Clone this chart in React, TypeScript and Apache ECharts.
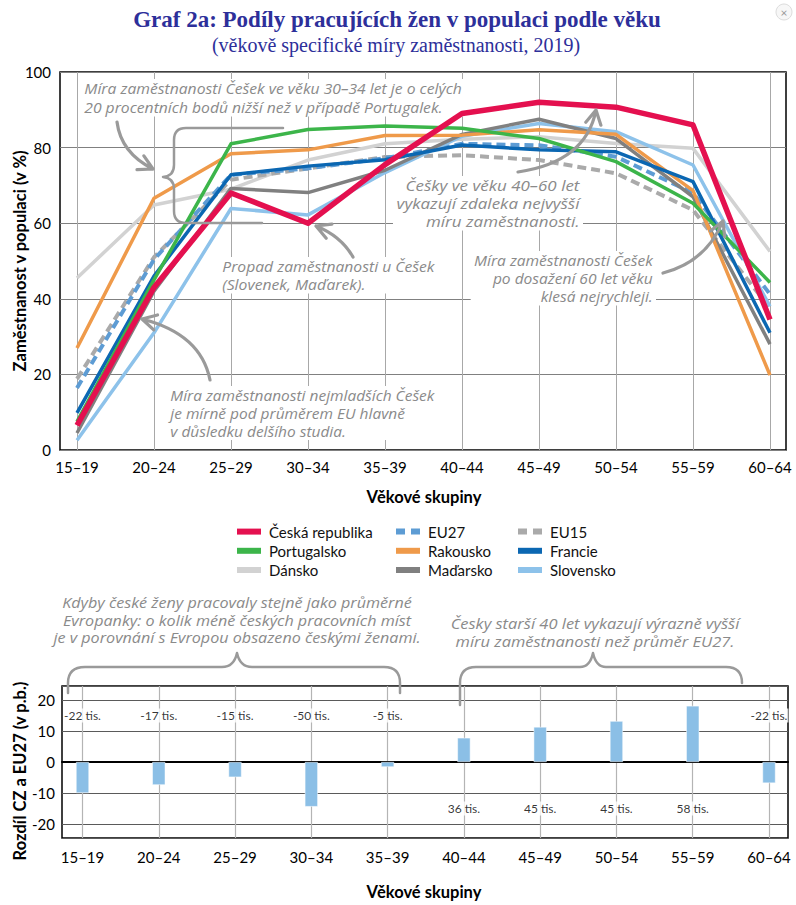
import React, { useEffect, useRef } from 'react';
import * as echarts from 'echarts';

// ---------- DATA ----------
const categories = ['15–19', '20–24', '25–29', '30–34', '35–39', '40–44', '45–49', '50–54', '55–59', '60–64'];

const czValues = [6.5, 43, 68, 60, 75.5, 89, 92, 90.7, 86, 34.5];
const eu27Values = [16.4, 50.4, 72.8, 74.5, 77.2, 81, 80.6, 77.6, 68, 41.2];
const eu15Values = [18.8, 51, 71.5, 74.5, 77.5, 78, 76.7, 73.2, 63.5, 37.5];
const ptValues = [7.5, 45, 81, 84.8, 85.7, 85.1, 82.4, 76.3, 65.3, 44.3];
const atValues = [27, 66.6, 78.4, 79.4, 83.2, 83.3, 84.7, 83.5, 68.6, 19.8];
const frValues = [9.8, 46, 72.8, 75.1, 76.8, 80.7, 79.4, 78.9, 71, 31];
const dkValues = [45.5, 64.8, 69, 76.7, 81, 82.2, 82.9, 81.1, 79.8, 52.5];
const huValues = [4.5, 42, 69.2, 68.1, 74, 83.5, 87.5, 82.4, 67, 28];
const skValues = [2.6, 31, 63.9, 62.2, 73.4, 83, 86.4, 84.2, 75.4, 38];

const diffValues = [-10, -7.4, -4.9, -14.4, -1.6, 7.8, 11.3, 13.2, 18.1, -6.8];
const jobLabels = ['-22 tis.', '-17 tis.', '-15 tis.', '-50 tis.', '-5 tis.', '36 tis.', '45 tis.', '45 tis.', '58 tis.', '-22 tis.'];

const legendCol1 = ['Česká republika', 'Portugalsko', 'Dánsko'];
const legendCol2 = ['EU27', 'Rakousko', 'Maďarsko'];
const legendCol3 = ['EU15', 'Francie', 'Slovensko'];

// ---------- STYLES ----------
const FONT = 'Lato, "Noto Sans", sans-serif';
const HAND = '"Open Sans", "Noto Sans", sans-serif';
const SERIF = '"Liberation Serif", "DejaVu Serif", serif';
const TITLE_COLOR = '#2d2f9a';
const ANNOT_COLOR = '#8a8a8a';
const ARROW_COLOR = '#9a9a9a';

const lineDefs = [
  { name: 'Dánsko', data: dkValues, color: '#d2d2d2', width: 3.5 },
  { name: 'EU15', data: eu15Values, color: '#aaaaaa', width: 4, dashed: true },
  { name: 'EU27', data: eu27Values, color: '#5d9cd4', width: 4, dashed: true },
  { name: 'Slovensko', data: skValues, color: '#8dc2ea', width: 3.5 },
  { name: 'Maďarsko', data: huValues, color: '#808080', width: 3.5 },
  { name: 'Rakousko', data: atValues, color: '#ef9a4a', width: 3.5 },
  { name: 'Francie', data: frValues, color: '#0b67b2', width: 3.5 },
  { name: 'Portugalsko', data: ptValues, color: '#3cb54a', width: 3.5 },
  { name: 'Česká republika', data: czValues, color: '#e4104f', width: 5.5 },
];
const dashedNames = lineDefs.filter((d) => d.dashed).map((d) => d.name);

const ICON_SOLID = 'path://M0,0H24V6H0Z';
const ICON_DASHED = 'path://M0,0H9V6H0ZM15,0H24V6H15Z';

// ---------- ANNOTATION SHAPES ----------
const arrows = [
  { s: [117, 122], c: [121, 153], t: [153, 169] },
  { s: [353, 257], c: [341, 236], t: [316, 226] },
  { s: [518, 172], c: [586, 162], t: [596, 110] },
  { s: [663, 273], c: [706, 262], t: [723, 221] },
  { s: [210, 380], c: [201, 334], t: [142, 319] },
];

function arrowPath(a: { s: number[]; c: number[]; t: number[] }) {
  const [sx, sy] = a.s;
  const [cx, cy] = a.c;
  const [tx, ty] = a.t;
  const ang = Math.atan2(ty - cy, tx - cx);
  const L = 16;
  const spread = 0.5;
  const a1 = [tx - L * Math.cos(ang - spread), ty - L * Math.sin(ang - spread)];
  const a2 = [tx - L * Math.cos(ang + spread), ty - L * Math.sin(ang + spread)];
  return `M${sx},${sy} Q${cx},${cy} ${tx},${ty} M${a1[0].toFixed(1)},${a1[1].toFixed(1)} L${tx},${ty} L${a2[0].toFixed(1)},${a2[1].toFixed(1)}`;
}

const arrowsD = arrows.map(arrowPath).join(' ');
const bracesD = [
  'M283,128 L186,128 Q174,128 174,140 L174,165 Q174,176 163,177 Q174,178 174,189 L174,211 Q174,223 186,223 L262,223',
  'M68,693 L68,683 Q68,667 85,667 L222,667 Q234,667 237,653 Q240,667 252,667 L384,667 Q400,667 400,683 L400,693',
  'M460,705 L460,683 Q460,667 476,667 L580,667 Q590,667 593,653 Q596,667 606,667 L726,667 Q742,667 742,683',
].join(' ');

echarts.graphic.registerShape('annotArrows', echarts.graphic.extendPath(arrowsD, {}));
echarts.graphic.registerShape('annotBraces', echarts.graphic.extendPath(bracesD, {}));

function handText(text: string, x: number, y: number, align: string, lineHeight: number, fontSize: number, scaleX: number, bg = true) {
  return {
    type: 'text',
    z: 1,
    x,
    y,
    scaleX,
    scaleY: 1,
    style: {
      text,
      x: 0,
      y: 0,
      align,
      verticalAlign: 'top',
      fontFamily: HAND,
      fontStyle: 'italic',
      fontSize,
      lineHeight,
      fill: ANNOT_COLOR,
      backgroundColor: bg ? '#ffffff' : undefined,
      padding: bg ? [0, 3] : 0,
    },
  };
}

function legendCfg(names: string[], left: number) {
  return {
    data: names.map((n) => ({ name: n, icon: dashedNames.includes(n) ? ICON_DASHED : ICON_SOLID })),
    left,
    top: 522,
    orient: 'vertical',
    padding: 0,
    itemGap: 0,
    itemWidth: 24,
    itemHeight: 6,
    selectedMode: false,
    textStyle: { fontFamily: FONT, fontSize: 15, color: '#111', lineHeight: 19.2, padding: [0, 0, 0, 3] },
  };
}

function axisName(text: string, x: number, y: number, vertical: boolean) {
  return {
    type: 'text',
    x,
    y,
    rotation: vertical ? Math.PI / 2 : 0,
    style: {
      text, x: 0, y: 0, align: 'center', verticalAlign: 'middle',
      fontFamily: FONT, fontWeight: 'bold', fontSize: 16.5, fill: '#000',
    },
  };
}

function buildOption() {
  const axisLabelStyle = { fontFamily: FONT, fontSize: 15, color: '#000' };
  return {
    animation: false,
    backgroundColor: '#ffffff',
    grid: [
      { left: 60, top: 72, width: 726, height: 378, show: true, borderColor: '#000', borderWidth: 1.5, backgroundColor: 'transparent' },
      { left: 77, top: 72, width: 693, height: 378 },
      { left: 62, top: 686, width: 726, height: 152, show: true, borderColor: '#000', borderWidth: 1.5, backgroundColor: 'transparent' },
      { left: 82.5, top: 686, width: 686.5, height: 152 },
    ],
    xAxis: [
      { gridIndex: 0, type: 'value', min: 0, max: 1, show: false },
      {
        gridIndex: 1,
        type: 'category',
        data: categories,
        boundaryGap: false,
        axisLine: { show: false, onZero: false },
        axisTick: { show: false },
        axisLabel: { ...axisLabelStyle, margin: 9, interval: 0 },
        splitLine: { show: true, interval: 0, lineStyle: { color: '#a8a8a8', width: 1 } },
      },
      {
        gridIndex: 2,
        type: 'value',
        min: 0,
        max: 1,
        axisLine: { show: true, onZero: true, lineStyle: { color: '#000', width: 2 } },
        axisTick: { show: false },
        axisLabel: { show: false },
        splitLine: { show: false },
      },
      {
        gridIndex: 3,
        type: 'category',
        data: categories,
        boundaryGap: false,
        axisLine: { show: false, onZero: false },
        axisTick: { show: false },
        axisLabel: { ...axisLabelStyle, margin: 11, interval: 0 },
        splitLine: { show: true, interval: 0, lineStyle: { color: '#b4b4b4', width: 1.2 } },
      },
    ],
    yAxis: [
      {
        gridIndex: 0,
        type: 'value',
        min: 0,
        max: 100,
        interval: 20,
        axisLine: { show: false },
        axisTick: { show: false },
        axisLabel: { ...axisLabelStyle, margin: 9 },
        splitLine: { show: true, lineStyle: { color: '#808080', width: 1 } },
      },
      { gridIndex: 1, type: 'value', min: 0, max: 100, show: false },
      {
        gridIndex: 2,
        type: 'value',
        min: -24.5,
        max: 24.5,
        splitNumber: 5,
        axisLine: { show: false },
        axisTick: { show: false },
        axisLabel: { ...axisLabelStyle, margin: 7, showMinLabel: false, showMaxLabel: false },
        splitLine: { show: true, lineStyle: { color: '#5a5a5a', width: 1 } },
      },
      { gridIndex: 3, type: 'value', min: -24.5, max: 24.5, show: false },
    ],
    legend: [legendCfg(legendCol1, 237), legendCfg(legendCol2, 396), legendCfg(legendCol3, 518)],
    series: [
      ...lineDefs.map((d) => ({
        name: d.name,
        type: 'line',
        xAxisIndex: 1,
        yAxisIndex: 1,
        data: d.data,
        symbol: 'none',
        showSymbol: false,
        clip: false,
        color: d.color,
        itemStyle: { color: d.color },
        lineStyle: { color: d.color, width: d.width, type: d.dashed ? [9, 5] : 'solid', cap: 'butt', join: 'round' },
      })),
      {
        name: 'Rozdíl',
        type: 'bar',
        xAxisIndex: 3,
        yAxisIndex: 3,
        data: diffValues,
        barWidth: 13,
        clip: false,
        itemStyle: { color: '#8bbfe6', borderColor: '#ffffff', borderWidth: 0.5 },
      },
      {
        name: 'Pracovní místa',
        type: 'scatter',
        xAxisIndex: 3,
        yAxisIndex: 3,
        symbolSize: 1,
        clip: false,
        itemStyle: { color: 'rgba(0,0,0,0)' },
        data: categories.map((c, i) => [c, diffValues[i] < 0 ? 15 : -15]),
        label: {
          show: true,
          position: 'inside',
          formatter: (p: any) => jobLabels[p.dataIndex],
          fontFamily: FONT,
          fontSize: 12,
          color: '#000',
          backgroundColor: '#ffffff',
          padding: [1, 1],
        },
        z: 3,
      },
    ],
    graphic: [
      // titles
      {
        type: 'text',
        style: {
          text: 'Graf 2a: Podíly pracujících žen v populaci podle věku',
          x: 397, y: 19, align: 'center', verticalAlign: 'middle',
          fontFamily: SERIF, fontWeight: 'bold', fontSize: 23, fill: TITLE_COLOR,
        },
      },
      {
        type: 'text',
        style: {
          text: '(věkově specifické míry zaměstnanosti, 2019)',
          x: 396, y: 45, align: 'center', verticalAlign: 'middle',
          fontFamily: SERIF, fontSize: 20, fill: TITLE_COLOR,
        },
      },
      // close icon
      { type: 'circle', shape: { cx: 784, cy: 12, r: 8 }, style: { fill: '#f7f7f7', stroke: '#dddddd', lineWidth: 1 } },
      {
        type: 'text',
        style: { text: '×', x: 784, y: 12, align: 'center', verticalAlign: 'middle', fontFamily: FONT, fontSize: 12, fill: '#999' },
      },
      // axis names
      axisName('Zaměstnanost v populaci (v %)', 20, 261, true),
      axisName('Věkové skupiny', 424, 497, false),
      axisName('Rozdíl CZ a EU27 (v p.b.)', 20, 771, true),
      axisName('Věkové skupiny', 424, 892, false),
      // annotations
      handText('Míra zaměstnanosti Češek ve věku 30–34 let je o celých\n20 procentních bodů nižší než v případě Portugalek.', 81, 79, 'left', 18.7, 14.4, 1.09),
      handText('Propad zaměstnanosti u Češek\n(Slovenek, Maďarek).', 219, 257, 'left', 18.2, 14.4, 1.09),
      handText('Češky ve věku 40–60 let\nvykazují zdaleka nejvyšší\nmíru zaměstnanosti.', 583, 176, 'right', 18.2, 14.4, 1.18),
      handText('Míra zaměstnanosti Češek\npo dosažení 60 let věku\nklesá nejrychleji.', 656, 251, 'right', 18.2, 14.4, 1.08),
      handText('Míra zaměstnanosti nejmladších Češek\nje mírně pod průměrem EU hlavně\nv důsledku delšího studia.', 167, 386, 'left', 18, 14.2, 1.09),
      handText('Kdyby české ženy pracovaly stejně jako průměrné\nEvropanky: o kolik méně českých pracovních míst\nje v porovnání s Evropou obsazeno českými ženami.', 237, 594, 'center', 17.5, 13.8, 1.17, false),
      handText('Česky starší 40 let vykazují výrazně vyšší\nmíru zaměstnanosti než průměr EU27.', 595, 615, 'center', 18, 14.2, 1.16, false),
      {
        type: 'annotBraces',
        z: 4,
        x: 0, y: 0,
        style: { stroke: ARROW_COLOR, fill: 'none', lineWidth: 2.5, lineCap: 'round', lineJoin: 'round' },
      },
      {
        type: 'annotArrows',
        z: 4,
        x: 0, y: 0,
        style: { stroke: ARROW_COLOR, fill: 'none', lineWidth: 3.2, lineCap: 'round', lineJoin: 'round' },
      },
    ],
  };
}

export default function App() {
  const ref = useRef<HTMLDivElement>(null);
  useEffect(() => {
    if (!ref.current) return;
    const chart = echarts.init(ref.current, null, { renderer: 'svg' });
    chart.setOption(buildOption() as any);
    return () => chart.dispose();
  }, []);
  return <div ref={ref} style={{ position: 'absolute', left: 0, top: 0, width: 796, height: 905 }} />;
}
